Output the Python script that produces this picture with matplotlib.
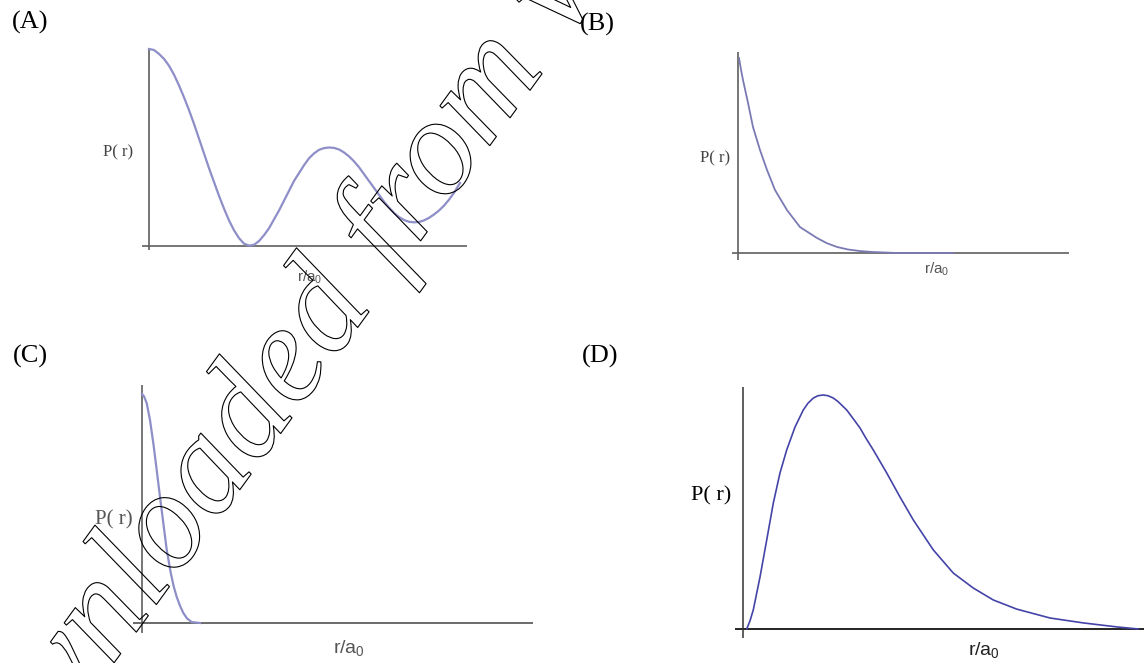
import numpy as np
import matplotlib
matplotlib.use("Agg")
import matplotlib.pyplot as plt
import matplotlib.patheffects as pe

plt.rcParams['mathtext.default'] = 'regular'

# values (x in r/a0 arbitrary units, y = P(r) relative to peak)
a_r = [0.0, 0.5, 1.0, 1.5, 2.0, 2.5, 3.0, 3.5, 4.0, 4.5, 5.0, 5.5, 6.0, 6.5, 7.0, 7.5,
       8.0, 8.5, 9.0, 9.5, 10.0, 10.5, 11.0, 11.5, 12.0, 12.5, 13.0, 13.5, 14.0, 14.5,
       15.0, 15.5, 16.0, 16.5, 17.0, 17.5, 18.0, 18.5, 19.0, 19.5, 20.0, 20.5, 21.0,
       21.5, 22.0, 22.5, 23.0, 23.5, 24.0, 24.5, 25.0, 25.5, 26.0, 26.5, 27.0, 27.5,
       28.0, 28.5, 29.0, 29.5, 30.0, 30.5, 31.1]
a_p = [1.0, 0.995, 0.975, 0.95, 0.915, 0.87, 0.815, 0.755, 0.69, 0.62, 0.545, 0.47,
       0.395, 0.325, 0.255, 0.19, 0.13, 0.08, 0.04, 0.012, 0.002, 0.006, 0.025, 0.055,
       0.09, 0.135, 0.18, 0.23, 0.28, 0.33, 0.37, 0.41, 0.445, 0.47, 0.488, 0.497, 0.50,
       0.498, 0.49, 0.475, 0.455, 0.43, 0.40, 0.365, 0.33, 0.295, 0.26, 0.225, 0.195,
       0.168, 0.147, 0.132, 0.123, 0.12, 0.122, 0.13, 0.143, 0.16, 0.18, 0.205, 0.235,
       0.27, 0.32]

b_r = [0.1, 0.3, 0.5, 1.0, 1.5, 2.2, 2.9, 3.7, 4.9, 6.2, 7.9, 8.9, 9.9, 11.0, 12.2,
       13.5, 15.9, 21.5]
b_p = [1.0, 0.94, 0.887, 0.77, 0.646, 0.528, 0.426, 0.323, 0.22, 0.133, 0.077, 0.05,
       0.031, 0.018, 0.01, 0.005, 0.0, 0.0]

c_r = [0.0, 0.2, 0.47, 0.8, 1.13, 1.47, 1.8, 2.13, 2.47, 2.87, 3.17, 3.47, 3.8, 4.13,
       4.5, 4.97, 5.8]
c_p = [1.0, 0.99, 0.96, 0.886, 0.786, 0.668, 0.55, 0.437, 0.32, 0.22, 0.16, 0.114,
       0.075, 0.044, 0.02, 0.004, 0.0]

d_r = [0.37, 0.7, 1.03, 1.7, 2.37, 3.03, 3.7, 4.37, 5.2, 6.03, 6.5, 7.03, 7.5, 8.03,
       8.5, 9.03, 9.5, 10.37, 11.0, 11.7, 12.3, 13.03, 14.37, 15.7, 17.03, 19.03, 21.03,
       23.03, 25.03, 27.37, 30.7, 34.03, 37.37, 39.53]
d_p = [0.0, 0.035, 0.082, 0.222, 0.38, 0.538, 0.667, 0.765, 0.863, 0.936, 0.965, 0.987,
       0.997, 1.0, 0.997, 0.987, 0.972, 0.936, 0.90, 0.859, 0.815, 0.765, 0.667, 0.564,
       0.466, 0.338, 0.239, 0.175, 0.124, 0.085, 0.047, 0.026, 0.009, 0.0]

panel_names = ["(A)", "(B)", "(C)", "(D)"]
ylabel = "P( r)"
xlabel = "r/a$_0$"

W, H = 1144, 663
fig = plt.figure(figsize=(W / 100, H / 100), dpi=100)


def make_axes(left, right, top, bottom, x0, y0, ypx):
    # pixel box of the axis lines, origin at (x0, y0), 10 px per x unit
    ax = fig.add_axes([left / W, 1 - bottom / H, (right - left) / W, (bottom - top) / H])
    ax.set_xlim((left - x0) / 10, (right - x0) / 10)
    ax.set_ylim(-(bottom - y0) / ypx, (y0 - top) / ypx)
    ax.axis("off")
    return ax


def fig_text(px, py, s, **kw):
    fig.text(px / W, 1 - py / H, s, ha="center", va="center", **kw)


grey = "#5f5f5f"
soft = "#8e8ec8"

# (A)
ax = make_axes(142, 467, 48, 250, 149, 246, 197)
ax.axhline(0, color=grey, lw=1.2)
ax.axvline(0, color=grey, lw=1.2)
ax.plot(a_r, a_p, color=soft, lw=1.6, clip_on=False)

# (B)
ax = make_axes(732, 1069, 52, 260, 738, 253, 195)
ax.axhline(0, color=grey, lw=1.2)
ax.axvline(0, color=grey, lw=1.2)
ax.plot(b_r, b_p, color="#7a7ab4", lw=1.3, clip_on=False)

# (C)
ax = make_axes(133, 533, 385, 633, 142, 623, 229)
ax.axhline(0, color=grey, lw=1.3)
ax.axvline(0, color=grey, lw=1.2)
ax.plot(c_r, c_p, color=soft, lw=1.6, clip_on=False)

# (D)
ax = make_axes(735, 1144, 387, 638, 743, 629, 234)
ax.axhline(0, color="black", lw=1.2)
ax.axvline(0, color="#333333", lw=1.1)
ax.plot(d_r, d_p, color="#4444a8", lw=1.2, clip_on=False)

# labels
serif = "Liberation Serif"
sans = "Liberation Sans"
for (px, py), name in zip([(30, 22), (597, 24), (30, 356), (600, 356)], panel_names):
    fig_text(px, py, name, family=serif, fontsize=19)

fig_text(118, 152, ylabel, family=serif, fontsize=12, color="#444444")
fig_text(715, 158, ylabel, family=serif, fontsize=12, color="#444444")
fig_text(114, 520, ylabel, family=serif, fontsize=15, color="#555555")
fig_text(711, 496, ylabel, family=serif, fontsize=16, color="black")

fig_text(310, 277, xlabel, family=sans, fontsize=11, color="#555555")
fig_text(937, 269, xlabel, family=sans, fontsize=11, color="#555555")
fig_text(349, 648, xlabel, family=sans, fontsize=14, color="#555555")
fig_text(984, 650, xlabel, family=sans, fontsize=14, color="#222222")

# outlined watermark
fig.text(-43 / W, 1 - 879 / H, "Downloaded from www.", family=serif, style="italic",
         fontsize=100, color=(1, 1, 1, 0), rotation=54, rotation_mode="anchor",
         ha="left", va="baseline", zorder=10,
         path_effects=[pe.Stroke(linewidth=0.8, foreground="black")])

fig.savefig("out.png", dpi=100)
